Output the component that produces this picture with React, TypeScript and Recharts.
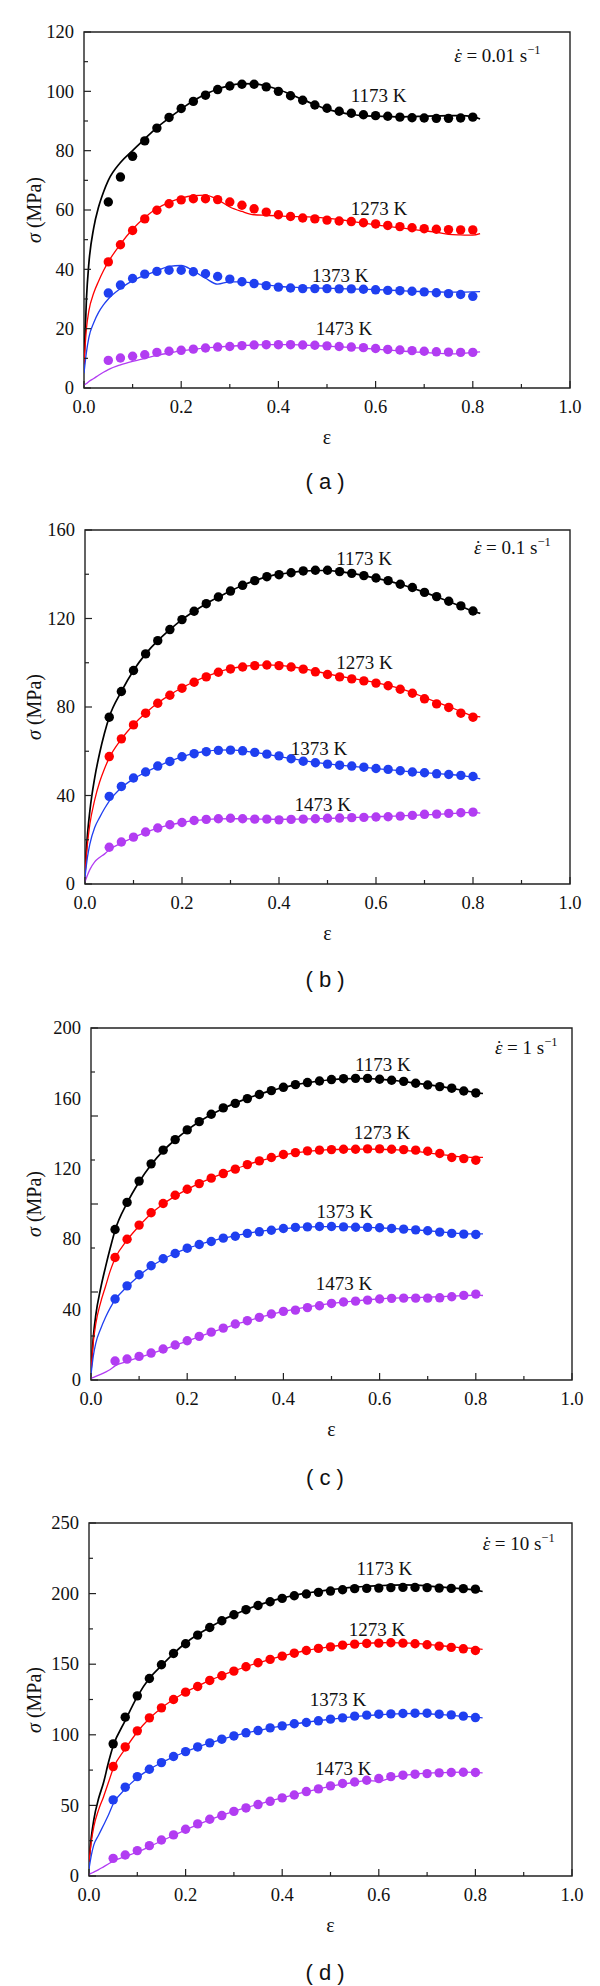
import React from "react";
import {
  ComposedChart,
  Line,
  Scatter,
  XAxis,
  YAxis,
  ReferenceArea,
  ReferenceDot,
} from "recharts";

// strain values where the model markers sit
const MARK_STRAIN = [
  0.05, 0.075, 0.1, 0.125, 0.15, 0.175, 0.2, 0.225, 0.25, 0.275, 0.3, 0.325,
  0.35, 0.375, 0.4, 0.425, 0.45, 0.475, 0.5, 0.525, 0.55, 0.575, 0.6, 0.625,
  0.65, 0.675, 0.7, 0.725, 0.75, 0.775, 0.8,
];

// strain values
const LINE_STRAIN = [
  0, 0.005, 0.01, 0.02, 0.03, 0.04, 0.05, 0.075, 0.1, 0.125, 0.15, 0.175, 0.2,
  0.225, 0.25, 0.275, 0.3, 0.325, 0.35, 0.375, 0.4, 0.425, 0.45, 0.475, 0.5,
  0.525, 0.55, 0.575, 0.6, 0.625, 0.65, 0.675, 0.7, 0.725, 0.75, 0.775, 0.8,
  0.815,
];

const TEMPS = ["1173 K", "1273 K", "1373 K", "1473 K"];
const RATES = ["0.01", "0.1", "1", "10"];
const TAGS = ["a", "b", "c", "d"];

const X_TICKS = [0, 0.1, 0.2, 0.3, 0.4, 0.5, 0.6, 0.7, 0.8, 0.9, 1.0];
const A_Y_TICKS = [0, 10, 20, 30, 40, 50, 60, 70, 80, 90, 100, 110, 120];
const B_Y_TICKS = [0, 20, 40, 60, 80, 100, 120, 140, 160];
const C_Y_TICKS = [0, 25, 40, 50, 75, 80, 100, 120, 125, 150, 160, 175, 200];
const D_Y_TICKS = [0, 25, 50, 75, 100, 125, 150, 175, 200, 225, 250];

// (a) 0.01 s-1
const A_M_1173 = [62.7, 71.1, 78.1, 83.3, 87.6, 91.2, 94.2, 96.6, 98.7, 100.6, 101.8, 102.4, 102.4, 101.5, 100, 98.5, 97, 95.4, 94.3, 93.3, 92.6, 92.1, 91.8, 91.6, 91.3, 91.1, 91, 90.9, 90.9, 91, 91.3];
const A_M_1273 = [42.5, 48.3, 53.1, 57, 59.9, 62.1, 63.4, 63.8, 63.8, 63.5, 62.7, 61.6, 60.4, 59.3, 58.4, 57.8, 57.3, 57, 56.6, 56.3, 56.1, 55.7, 55.3, 54.8, 54.4, 54, 53.7, 53.5, 53.4, 53.3, 53.3];
const A_M_1373 = [32, 34.7, 36.9, 38.4, 39.3, 39.7, 39.7, 39.2, 38.5, 37.6, 36.7, 35.8, 35.2, 34.5, 34, 33.7, 33.5, 33.5, 33.5, 33.4, 33.4, 33.3, 33.1, 32.9, 32.8, 32.6, 32.4, 32.1, 31.8, 31.5, 30.9];
const A_M_1473 = [9.3, 10.1, 10.7, 11.2, 12, 12.4, 12.7, 13.1, 13.5, 13.8, 14, 14.3, 14.5, 14.6, 14.6, 14.6, 14.5, 14.4, 14.2, 14, 13.8, 13.6, 13.3, 13, 12.8, 12.6, 12.4, 12.2, 12.1, 12, 12];
const A_L_1173 = [8, 30, 42, 54, 61, 66, 70, 76, 80, 84, 87.8, 91, 94, 96.8, 99, 100.8, 101.9, 102.6, 102.5, 101.8, 100.6, 99, 97.2, 95.5, 94, 93, 92.2, 91.8, 91.6, 91.5, 91.4, 91.5, 91.6, 91.7, 91.8, 91.8, 91.5, 90.7];
const A_L_1273 = [8, 20, 26, 32, 36, 39.5, 42.5, 48.5, 53.5, 57.5, 60.5, 62.6, 64, 64.8, 65, 63.5, 61, 59.5, 58.4, 58.2, 58, 57.8, 57.8, 57.6, 57.2, 56.8, 56.2, 55.6, 55, 54.5, 54, 53.5, 53, 52.5, 51.8, 51.6, 51.5, 52];
const A_L_1373 = [5, 12, 17, 22, 25.5, 28, 30, 33.5, 36.2, 38, 39.5, 41, 41.3, 39.5, 37, 35, 35.8, 35.8, 35.3, 34.8, 34.3, 34, 33.8, 33.7, 33.6, 33.5, 33.4, 33.3, 33.2, 33, 32.8, 32.6, 32.5, 32.4, 32.3, 32.3, 32.4, 32.5];
const A_L_1473 = [1, 1.5, 2.2, 3.2, 4.3, 5.3, 6.2, 7.8, 9, 10, 11, 11.8, 12.5, 13, 13.5, 13.8, 14.1, 14.3, 14.5, 14.6, 14.6, 14.6, 14.5, 14.3, 14.1, 13.9, 13.6, 13.4, 13.1, 12.8, 12.5, 12.2, 12, 11.7, 11.5, 11.6, 12, 12.2];

// (b) 0.1 s-1
const B_M_1173 = [75.4, 87, 96.5, 104, 110, 115, 119.5, 123.3, 126.7, 129.7, 132.4, 135, 137.1, 138.9, 139.8, 140.7, 141.5, 141.8, 141.8, 141.2, 140.4, 139.4, 138.3, 137.1, 135.5, 134, 131.8, 129.9, 127.8, 125.7, 123.4];
const B_M_1273 = [57.6, 65.6, 71.9, 77.2, 81.7, 85.3, 88.5, 91.2, 93.6, 95.7, 97.2, 98.1, 98.7, 99, 98.7, 98.1, 97.1, 95.9, 94.7, 93.6, 92.7, 91.8, 90.8, 89.6, 88, 86.2, 83.7, 81.4, 79.8, 77.2, 75.4];
const B_M_1373 = [39.6, 44.1, 47.9, 50.6, 53.3, 55.4, 57.5, 58.9, 59.8, 60.4, 60.5, 60.2, 59.5, 58.7, 57.9, 56.6, 55.5, 54.8, 54.2, 53.7, 53.3, 52.8, 52.2, 51.8, 51.2, 50.6, 50.3, 49.8, 49.5, 49.1, 48.6];
const B_M_1473 = [16.6, 19, 21.2, 23.5, 25.3, 26.8, 27.8, 28.7, 29.2, 29.5, 29.7, 29.5, 29.3, 29.3, 29, 29.2, 29.3, 29.5, 29.7, 29.8, 30, 30.1, 30.3, 30.4, 30.7, 31, 31.5, 31.6, 31.9, 32.2, 32.5];
const B_L_1173 = [5, 22, 33, 48, 59, 68, 75.5, 87, 96.5, 104, 110, 115, 119.5, 123.3, 126.7, 129.7, 132.4, 135, 137.1, 138.9, 140, 140.8, 141.4, 141.7, 141.7, 141.2, 140.4, 139.4, 138.2, 137, 135.5, 133.8, 131.8, 129.8, 127.7, 125.5, 123.3, 122.3];
const B_L_1273 = [5, 18, 27, 38, 46, 52, 57, 65.5, 72, 77.3, 81.8, 85.5, 88.7, 91.4, 93.8, 95.8, 97.3, 98.3, 98.8, 99, 98.8, 98.2, 97.3, 96.2, 95, 93.9, 92.9, 92, 91, 89.8, 88.3, 86.5, 84.3, 82.2, 80.2, 78, 76, 75.5];
const B_L_1373 = [3, 12, 18, 25.5, 30, 34, 37.5, 43.5, 47.5, 50.5, 53.2, 55.5, 57.5, 59, 60, 60.5, 60.6, 60.2, 59.5, 58.6, 57.6, 56.7, 55.8, 55, 54.3, 53.7, 53.2, 52.7, 52.2, 51.7, 51.2, 50.7, 50.3, 49.9, 49.5, 49, 48.3, 47.5];
const B_L_1473 = [1, 4, 6.5, 10, 12, 13.5, 15.5, 18.5, 21, 23.3, 25.2, 26.7, 27.8, 28.6, 29.1, 29.4, 29.5, 29.5, 29.4, 29.3, 29.2, 29.3, 29.4, 29.5, 29.6, 29.8, 30, 30.2, 30.4, 30.6, 30.8, 31, 31.3, 31.5, 31.8, 32.1, 32.4, 32];

// (c) 1 s-1
const C_M_1173 = [85.5, 100.9, 113, 122.8, 130.6, 136.6, 142.1, 146.8, 151, 154.6, 157.2, 159.9, 162.2, 164.4, 166.3, 167.8, 169, 169.9, 170.7, 171.2, 171.4, 171.4, 170.9, 170.3, 169.7, 168.6, 167.6, 166.7, 165.8, 164.2, 163.1];
const C_M_1273 = [69.6, 80, 88, 95, 100.3, 105, 108.4, 111.6, 114.7, 117.3, 119.8, 122.4, 124.5, 126.4, 128.1, 129.2, 130.2, 130.6, 130.9, 131.1, 131.1, 131.3, 131.3, 131.1, 130.9, 130.6, 130, 128.7, 126.4, 125.8, 124.9];
const C_M_1373 = [46, 53.5, 59.8, 64.9, 68.9, 71.9, 74.9, 77, 78.7, 80.6, 81.7, 83.3, 84.2, 85.1, 86.1, 86.7, 87, 87.2, 87.2, 87, 86.8, 86.7, 86.5, 86.1, 85.7, 85.3, 84.8, 84, 83.3, 82.9, 82.7];
const C_M_1473 = [10.8, 11.9, 13.4, 15.3, 17.6, 19.9, 22.3, 24.8, 27.2, 29.5, 31.8, 33.7, 35.6, 37.5, 39, 39.7, 41.1, 42.2, 43.5, 44.3, 44.8, 45.4, 46, 46.4, 46.5, 46.5, 46.5, 46.7, 47.3, 48.1, 48.8];
const C_L_1173 = [5, 25, 37, 52, 64, 75, 85, 100.5, 112.5, 122.3, 130.2, 136.5, 142, 146.7, 150.8, 154.3, 157.3, 160, 162.3, 164.4, 166.2, 167.7, 168.9, 169.9, 170.6, 171.1, 171.3, 171.3, 170.9, 170.3, 169.6, 168.7, 167.8, 166.8, 165.7, 164.5, 163.3, 162.8];
const C_L_1273 = [5, 22, 32, 44, 53, 62, 69, 79.5, 87.5, 94.5, 100, 104.5, 108.3, 111.7, 114.7, 117.4, 119.9, 122.3, 124.4, 126.2, 127.8, 129, 129.9, 130.5, 130.9, 131.1, 131.2, 131.2, 131.1, 130.9, 130.5, 129.9, 129.1, 128.2, 127.4, 126.8, 126.5, 126.5];
const C_L_1373 = [3, 14, 21, 29, 35.5, 41, 45.5, 53, 59.3, 64.5, 68.6, 72, 74.8, 77, 78.9, 80.6, 82, 83.3, 84.4, 85.3, 86, 86.6, 87, 87.2, 87.2, 87.1, 86.9, 86.7, 86.4, 86.1, 85.7, 85.3, 84.8, 84.2, 83.6, 83.2, 83, 83];
const C_L_1473 = [1, 1.5, 2, 3.2, 4.5, 6, 8, 10.5, 12.8, 15, 17.3, 19.7, 22.1, 24.6, 27, 29.3, 31.5, 33.5, 35.5, 37.3, 39, 40.3, 41.5, 42.6, 43.5, 44.3, 45, 45.6, 46.1, 46.5, 46.7, 46.9, 47.1, 47.3, 47.6, 47.9, 48.2, 48];

// (d) 10 s-1
const D_M_1173 = [93.6, 112.5, 127.6, 139.9, 149.6, 157.6, 164.5, 170.6, 176, 180.8, 185, 188.6, 191.6, 194.2, 196.6, 198.5, 199.7, 200.9, 201.8, 202.7, 203.5, 203.7, 203.9, 204.2, 204.4, 204.4, 204.2, 203.9, 203.7, 203.5, 203.2];
const D_M_1273 = [77.5, 91.4, 102.8, 112, 119.1, 125, 130.2, 134.2, 138.5, 141.8, 145.1, 148.2, 151, 153.4, 155.7, 157.8, 159.7, 161.2, 162.3, 163.5, 164.2, 164.7, 164.9, 165.2, 164.9, 164.5, 163.8, 162.8, 161.9, 160.9, 159.7];
const D_M_1373 = [53.9, 62.9, 70.4, 75.6, 80.3, 84.6, 88.1, 91.4, 94.3, 96.9, 99.2, 101.4, 103, 104.9, 106.3, 107.8, 108.7, 109.9, 111.1, 112, 113.2, 113.9, 114.6, 114.8, 115.1, 115.3, 115.3, 114.6, 114.1, 113.2, 112.2];
const D_M_1473 = [12.5, 14.9, 18, 21.5, 25.5, 29.1, 33.1, 36.9, 40.2, 42.8, 45.8, 48.2, 50.6, 52.9, 55.3, 57.4, 59.8, 61.7, 63.8, 65.5, 66.6, 67.8, 69, 70.4, 71.4, 72.1, 72.5, 73, 73.3, 73.5, 73.3];
const D_L_1173 = [10, 28, 40, 55, 66, 80, 92, 110, 127, 140, 149, 157.5, 165, 171, 176, 181, 185, 188.6, 191.8, 194.5, 196.8, 198.7, 200.3, 201.6, 202.8, 203.8, 204.6, 205.2, 205.6, 206, 206.2, 206, 205.5, 204.8, 204, 203.3, 202.5, 201.5];
const D_L_1273 = [10, 25, 35, 47, 56, 66, 76, 90, 102, 111.5, 119, 125, 130.3, 134.5, 138.5, 142, 145.2, 148.2, 151, 153.5, 155.8, 157.9, 159.7, 161.2, 162.5, 163.6, 164.4, 164.9, 165.2, 165.3, 165.1, 164.7, 164, 163.2, 162.4, 161.6, 161, 160.5];
const D_L_1373 = [5, 15, 22, 29, 36, 43, 51, 61.5, 69.5, 75.5, 80.2, 84.4, 88, 91.3, 94.2, 96.8, 99.2, 101.3, 103.1, 104.8, 106.3, 107.7, 108.9, 110, 111, 112, 112.9, 113.6, 114.2, 114.7, 115, 115.1, 114.9, 114.4, 113.8, 113.1, 112.5, 112];
const D_L_1473 = [1, 2, 2.8, 4.5, 6.5, 8.5, 10.5, 13.8, 17, 20.8, 24.8, 28.7, 32.6, 36.4, 39.8, 43, 45.8, 48.4, 50.8, 53.1, 55.4, 57.6, 59.7, 61.6, 63.4, 65, 66.4, 67.6, 67, 69.5, 71.2, 72.2, 72.8, 73.2, 73.4, 73.5, 73.4, 73];

const COLORS = ["#000000", "#ff0000", "#1f3ff0", "#b23cf2"];
const SERIF = "'Liberation Serif', 'Times New Roman', serif";
const SANS = "'Liberation Sans', Arial, sans-serif";

const toPts = (xs: number[], ys: number[]) => xs.map((x, i) => ({ x, y: ys[i] }));

const PANELS = [
  {
    yMax: 120, yTicks: A_Y_TICKS, labelStep: 20, majorStep: 20, minorStep: 10,
    lines: [A_L_1173, A_L_1273, A_L_1373, A_L_1473],
    marks: [A_M_1173, A_M_1273, A_M_1373, A_M_1473],
    notes: [[0.549, 98.7], [0.549, 60.5], [0.469, 37.9], [0.477, 19.9]],
    ratePos: [0.762, 112.2],
    top: 0, plotH: 356, left: 84, right: 570,
  },
  {
    yMax: 160, yTicks: B_Y_TICKS, labelStep: 40, majorStep: 40, minorStep: 20,
    lines: [B_L_1173, B_L_1273, B_L_1373, B_L_1473],
    marks: [B_M_1173, B_M_1273, B_M_1373, B_M_1473],
    notes: [[0.518, 146.9], [0.518, 100], [0.424, 61.2], [0.432, 35.7]],
    ratePos: [0.802, 151.9],
    top: 498, plotH: 354, left: 85, right: 570,
  },
  {
    yMax: 200, yTicks: C_Y_TICKS, labelStep: 40, majorStep: 50, minorStep: 25,
    lines: [C_L_1173, C_L_1273, C_L_1373, C_L_1473],
    marks: [C_M_1173, C_M_1273, C_M_1373, C_M_1473],
    notes: [[0.549, 179.4], [0.546, 140.7], [0.469, 95.6], [0.467, 54.9]],
    ratePos: [0.84, 188.8],
    top: 996, plotH: 352, left: 91, right: 572,
  },
  {
    yMax: 250, yTicks: D_Y_TICKS, labelStep: 50, majorStep: 50, minorStep: 25,
    lines: [D_L_1173, D_L_1273, D_L_1373, D_L_1473],
    marks: [D_M_1173, D_M_1273, D_M_1373, D_M_1473],
    notes: [[0.554, 217.8], [0.538, 174.5], [0.457, 125.2], [0.468, 76.2]],
    ratePos: [0.815, 235.6],
    top: 1491, plotH: 353, left: 89, right: 572,
  },
];

const CHART_H = 495;
const PLOT_TOP = 32;
const X_AXIS_H = 30;

function XTick(props: any) {
  const { x, y, payload } = props;
  const v = payload.value as number;
  const major = Math.round(v * 10) % 2 === 0;
  return (
    <g>
      <line x1={x} x2={x} y1={y} y2={y - (major ? 7 : 4)} stroke="#222" strokeWidth={1.2} />
      {major && (
        <text x={x} y={y + 25} textAnchor="middle" fontFamily={SERIF} fontSize={18.5} fill="#111">
          {v.toFixed(1)}
        </text>
      )}
    </g>
  );
}

function makeYTick(labelStep: number, majorStep: number, minorStep: number) {
  return function YTick(props: any) {
    const { x, y, payload } = props;
    const v = payload.value as number;
    const hasMark = v % minorStep === 0;
    const major = v % majorStep === 0;
    const labelled = v % labelStep === 0;
    return (
      <g>
        {hasMark && (
          <line x1={x} x2={x + (major ? 7 : 4)} y1={y} y2={y} stroke="#222" strokeWidth={1.2} />
        )}
        {labelled && (
          <text x={x - 10} y={y} dy="0.34em" textAnchor="end" fontFamily={SERIF} fontSize={18.5} fill="#111">
            {v}
          </text>
        )}
      </g>
    );
  };
}

function Panel({ p, idx }: { p: (typeof PANELS)[number]; idx: number }) {
  const YTick = makeYTick(p.labelStep, p.majorStep, p.minorStep);
  const plotBottom = PLOT_TOP + p.plotH;
  const midX = (p.left + p.right) / 2;
  return (
    <div style={{ position: "absolute", left: 0, top: p.top, width: 600, height: CHART_H }}>
      <ComposedChart
        width={600}
        height={CHART_H}
        margin={{ top: PLOT_TOP, right: 600 - p.right, left: 0, bottom: CHART_H - plotBottom - X_AXIS_H }}
      >
        <XAxis
          type="number"
          dataKey="x"
          domain={[0, 1]}
          ticks={X_TICKS}
          interval={0}
          tickSize={0}
          tickMargin={0}
          axisLine={false}
          tickLine={false}
          tick={<XTick />}
          height={X_AXIS_H}
          allowDataOverflow
        />
        <YAxis
          type="number"
          dataKey="y"
          domain={[0, p.yMax]}
          ticks={p.yTicks}
          interval={0}
          tickSize={0}
          tickMargin={0}
          axisLine={false}
          tickLine={false}
          tick={<YTick />}
          width={p.left}
          allowDataOverflow
        />
        <ReferenceArea
          x1={0}
          x2={1}
          y1={0}
          y2={p.yMax}
          fill="none"
          fillOpacity={0}
          stroke="#222"
          strokeWidth={1.4}
          ifOverflow="visible"
        />
        {p.lines.map((ys, i) => (
          <Line
            key={"l" + i}
            data={toPts(LINE_STRAIN, ys)}
            dataKey="y"
            type="monotone"
            stroke={COLORS[i]}
            strokeWidth={i === 0 ? 1.7 : 1.3}
            dot={false}
            activeDot={false}
            isAnimationActive={false}
          />
        ))}
        {p.marks.map((ys, i) => (
          <Scatter
            key={"m" + i}
            data={toPts(MARK_STRAIN, ys)}
            dataKey="y"
            fill={COLORS[i]}
            isAnimationActive={false}
            shape={(s: any) => <circle cx={s.cx} cy={s.cy} r={4.7} fill={COLORS[i]} />}
          />
        ))}
        {p.notes.map((pos, i) => (
          <ReferenceDot
            key={"n" + i}
            x={pos[0]}
            y={pos[1]}
            r={0}
            shape={(s: any) => (
              <text x={s.cx} y={s.cy} dy="0.34em" fontFamily={SERIF} fontSize={19} fill="#111">
                {TEMPS[i]}
              </text>
            )}
          />
        ))}
        <ReferenceDot
          x={p.ratePos[0]}
          y={p.ratePos[1]}
          r={0}
          shape={(s: any) => (
            <text x={s.cx} y={s.cy} dy="0.34em" fontFamily={SERIF} fontSize={19} fill="#111">
              <tspan fontStyle="italic">{"\u03B5"}</tspan>
              <tspan dx={-6.5}>{"\u02D9"}</tspan>
              {" = " + RATES[idx] + " s"}
              <tspan dy={-8} fontSize={12.5}>{"\u22121"}</tspan>
            </text>
          )}
        />
      </ComposedChart>
      <div
        style={{
          position: "absolute",
          left: 34,
          top: PLOT_TOP + p.plotH / 2,
          transform: "translate(-50%, -50%) rotate(-90deg)",
          whiteSpace: "nowrap",
          fontFamily: SERIF,
          fontSize: 20,
          lineHeight: 1,
          color: "#111",
        }}
      >
        <i>{"\u03C3"}</i> (MPa)
      </div>
      <div
        style={{
          position: "absolute",
          left: midX,
          top: plotBottom + 49,
          transform: "translate(-50%, -50%)",
          fontFamily: SERIF,
          fontSize: 20,
          lineHeight: 1,
          color: "#111",
        }}
      >
        {"\u03B5"}
      </div>
      <div
        style={{
          position: "absolute",
          left: 325,
          top: PLOT_TOP + 450,
          transform: "translate(-50%, -50%)",
          fontFamily: SANS,
          fontSize: 22,
          lineHeight: 1,
          whiteSpace: "pre",
          color: "#111",
        }}
      >
        {"( " + TAGS[idx] + " )"}
      </div>
    </div>
  );
}

export default function App() {
  return (
    <div style={{ position: "absolute", left: 0, top: 0, width: 600, height: 1986, background: "#fff", overflow: "hidden" }}>
      {PANELS.map((p, i) => (
        <Panel key={i} p={p} idx={i} />
      ))}
    </div>
  );
}
